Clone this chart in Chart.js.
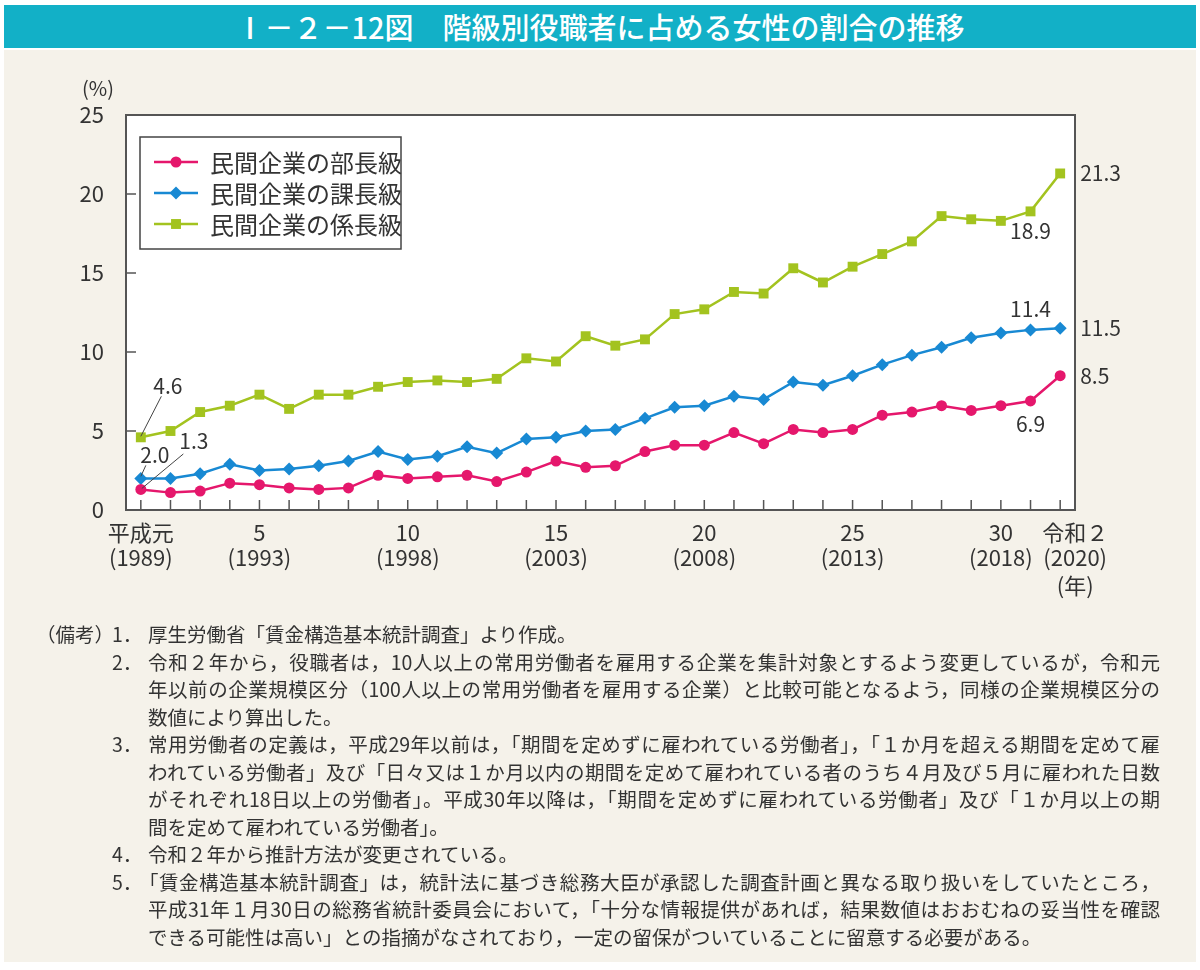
<!DOCTYPE html>
<html lang="ja">
<head>
<meta charset="utf-8">
<script src="https://cdn.jsdelivr.net/npm/chart.js@4.4.1/dist/chart.umd.min.js"></script>
<style>
  html, body { margin: 0; padding: 0; background: #fff; }
  body { width: 1200px; height: 970px; position: relative; overflow: hidden; font-family: 'Noto Sans CJK JP', 'Noto Sans', sans-serif; color: #333; }
  #title { position: absolute; left: 4px; top: 5px; width: 1192px; height: 43px; background: #12B0C7; color: #fff;
           font-size: 29px; font-weight: 500; line-height: 43px; text-align: center; }
  #panel { position: absolute; left: 4px; top: 50px; width: 1192px; height: 912px; background: #F5F2EA; }
  #chartBox { position: absolute; left: 0; top: 50px; width: 1200px; height: 570px; }
  #notes { position: absolute; left: 0; top: 620px; width: 1200px; font-size: 19.5px; line-height: 27.5px; color: #333; }
  #notes .lbl { position: absolute; left: 36px; top: 0; }
  .note { position: relative; padding-left: 148px; }
  .note .num { position: absolute; left: 112px; top: 0; }
  .ln { width: 1012px; }
  .j { text-align: justify; text-align-last: justify; }
  .hang { margin-left: -9px; width: 1021px; }
</style>
</head>
<body>
<div id="panel"></div>
<div id="title">Ⅰ－２－12図　階級別役職者に占める女性の割合の推移</div>
<div id="chartBox"><canvas id="chart"></canvas></div>

<div id="notes">
  <div class="lbl">（備考）</div>
  <div class="note"><span class="num">1．</span>
    <div class="ln">厚生労働省「賃金構造基本統計調査」より作成。</div>
  </div>
  <div class="note"><span class="num">2．</span>
    <div class="ln j">令和２年から，役職者は，10人以上の常用労働者を雇用する企業を集計対象とするよう変更しているが，令和元</div>
    <div class="ln j">年以前の企業規模区分（100人以上の常用労働者を雇用する企業）と比較可能となるよう，同様の企業規模区分の</div>
    <div class="ln">数値により算出した。</div>
  </div>
  <div class="note"><span class="num">3．</span>
    <div class="ln j">常用労働者の定義は，平成29年以前は，「期間を定めずに雇われている労働者」，「１か月を超える期間を定めて雇</div>
    <div class="ln j">われている労働者」及び「日々又は１か月以内の期間を定めて雇われている者のうち４月及び５月に雇われた日数</div>
    <div class="ln j">がそれぞれ18日以上の労働者」。平成30年以降は，「期間を定めずに雇われている労働者」及び「１か月以上の期</div>
    <div class="ln">間を定めて雇われている労働者」。</div>
  </div>
  <div class="note"><span class="num">4．</span>
    <div class="ln">令和２年から推計方法が変更されている。</div>
  </div>
  <div class="note"><span class="num">5．</span>
    <div class="ln j hang">「賃金構造基本統計調査」は，統計法に基づき総務大臣が承認した調査計画と異なる取り扱いをしていたところ，</div>
    <div class="ln j">平成31年１月30日の総務省統計委員会において，「十分な情報提供があれば，結果数値はおおむねの妥当性を確認</div>
    <div class="ln">できる可能性は高い」との指摘がなされており，一定の留保がついていることに留意する必要がある。</div>
  </div>
</div>

<script>
const FONT = "'Noto Sans CJK JP', 'Noto Sans', sans-serif";

// data (%)
const years = [1989, 1990, 1991, 1992, 1993, 1994, 1995, 1996, 1997, 1998, 1999, 2000, 2001, 2002, 2003, 2004,
               2005, 2006, 2007, 2008, 2009, 2010, 2011, 2012, 2013, 2014, 2015, 2016, 2017, 2018, 2019, 2020];
const buchoRatio = [1.3, 1.1, 1.2, 1.7, 1.6, 1.4, 1.3, 1.4, 2.2, 2.0, 2.1, 2.2, 1.8, 2.4, 3.1, 2.7,
                    2.8, 3.7, 4.1, 4.1, 4.9, 4.2, 5.1, 4.9, 5.1, 6.0, 6.2, 6.6, 6.3, 6.6, 6.9, 8.5];
const kachoRatio = [2.0, 2.0, 2.3, 2.9, 2.5, 2.6, 2.8, 3.1, 3.7, 3.2, 3.4, 4.0, 3.6, 4.5, 4.6, 5.0,
                    5.1, 5.8, 6.5, 6.6, 7.2, 7.0, 8.1, 7.9, 8.5, 9.2, 9.8, 10.3, 10.9, 11.2, 11.4, 11.5];
const kakarichoRatio = [4.6, 5.0, 6.2, 6.6, 7.3, 6.4, 7.3, 7.3, 7.8, 8.1, 8.2, 8.1, 8.3, 9.6, 9.4, 11.0,
                        10.4, 10.8, 12.4, 12.7, 13.8, 13.7, 15.3, 14.4, 15.4, 16.2, 17.0, 18.6, 18.4, 18.3, 18.9, 21.3];
const seriesNames = ['民間企業の部長級', '民間企業の課長級', '民間企業の係長級'];

// x axis labels
const tickYears = [1989, 1993, 1998, 2003, 2008, 2013, 2018, 2020];
const eraLabels = ['平成元', '5', '10', '15', '20', '25', '30', '令和２'];
const westernLabels = ['(1989)', '(1993)', '(1998)', '(2003)', '(2008)', '(2013)', '(2018)', '(2020)'];
const yearUnit = '(年)';

// where the value labels go (dataset, point, offset from point, optional leader line)
const callouts = [
    { ds: 2, idx: 0, dx: 27, dy: -51, from: [-6.5, 10], to: [0, -1] },
    { ds: 1, idx: 0, dx: 14, dy: -23, from: [-9, 10], to: [0, -2] },
    { ds: 0, idx: 0, dx: 53, dy: -48, from: [-10.5, 12.5], to: [1, -1] },
    { ds: 2, idx: 30, dx: 0, dy: 20 },
    { ds: 1, idx: 30, dx: 0, dy: -21 },
    { ds: 0, idx: 30, dx: 0, dy: 23 },
    { ds: 2, idx: 31, dx: 20, dy: 0, align: 'left' },
    { ds: 1, idx: 31, dx: 20, dy: 0, align: 'left' },
    { ds: 0, idx: 31, dx: 20, dy: 0, align: 'left' }
];

const framePlugin = {
    id: 'framePlugin',
    beforeDraw(chart) {
        const { ctx, chartArea: a } = chart;
        ctx.save();
        ctx.fillStyle = '#fff';
        ctx.fillRect(a.left, a.top, a.right - a.left, a.bottom - a.top);
        ctx.restore();
    },
    beforeDatasetsDraw(chart) {
        const { ctx, chartArea: a, scales: { x, y } } = chart;
        ctx.save();
        ctx.strokeStyle = '#555';
        ctx.lineWidth = 2;
        ctx.strokeRect(a.left, a.top, a.right - a.left, a.bottom - a.top);
        // inward tick marks
        ctx.lineWidth = 1.5;
        ctx.beginPath();
        x.ticks.forEach((t, i) => {
            const px = x.getPixelForTick(i);
            ctx.moveTo(px, a.bottom);
            ctx.lineTo(px, a.bottom - 10);
        });
        y.ticks.forEach((t, i) => {
            const py = y.getPixelForTick(i);
            ctx.moveTo(a.left, py);
            ctx.lineTo(a.left + 10, py);
        });
        ctx.stroke();

        // year labels under the axis
        ctx.fillStyle = '#333';
        ctx.font = `22px ${FONT}`;
        ctx.textAlign = 'center';
        ctx.textBaseline = 'middle';
        tickYears.forEach((yr, i) => {
            const last = i === tickYears.length - 1;
            const px = x.getPixelForValue(years.indexOf(yr)) + (last ? 15 : 0);
            ctx.fillText(eraLabels[i], px, a.bottom + 23);
            ctx.fillText(westernLabels[i], px, a.bottom + 48);
            if (last) ctx.fillText(yearUnit, px, a.bottom + 76);
        });

        // unit of y axis
        ctx.font = `20px ${FONT}`;
        ctx.fillText('(%)', a.left - 28, a.top - 27);
        ctx.restore();
    }
};

const valueLabelsPlugin = {
    id: 'valueLabelsPlugin',
    afterDatasetsDraw(chart) {
        const { ctx } = chart;
        ctx.save();
        ctx.font = `21px ${FONT}`;
        ctx.fillStyle = '#333';
        ctx.strokeStyle = '#444';
        ctx.lineWidth = 1;
        ctx.textBaseline = 'middle';
        callouts.forEach(c => {
            const pt = chart.getDatasetMeta(c.ds).data[c.idx];
            const value = chart.data.datasets[c.ds].data[c.idx];
            const lx = pt.x + c.dx, ly = pt.y + c.dy;
            ctx.textAlign = c.align || 'center';
            ctx.fillText(value.toFixed(1), lx, ly);
            if (c.from) {
                ctx.beginPath();
                ctx.moveTo(lx + c.from[0], ly + c.from[1]);
                ctx.lineTo(pt.x + c.to[0], pt.y + c.to[1]);
                ctx.stroke();
            }
        });
        ctx.restore();
    }
};

const boxLegendPlugin = {
    id: 'boxLegendPlugin',
    afterDraw(chart) {
        const { ctx, chartArea: a } = chart;
        const x0 = a.left + 14, y0 = a.top + 22, w = 261, h = 112;
        ctx.save();
        ctx.fillStyle = '#fff';
        ctx.fillRect(x0, y0, w, h);
        ctx.strokeStyle = '#444';
        ctx.lineWidth = 1.5;
        ctx.strokeRect(x0, y0, w, h);
        chart.data.datasets.forEach((ds, i) => {
            const cy = y0 + 25 + i * 31;
            ctx.strokeStyle = ds.borderColor;
            ctx.lineWidth = ds.borderWidth;
            ctx.beginPath();
            ctx.moveTo(x0 + 14, cy);
            ctx.lineTo(x0 + 58, cy);
            ctx.stroke();
            ctx.fillStyle = ds.backgroundColor;
            Chart.helpers.drawPoint(ctx, { pointStyle: ds.pointStyle, radius: ds.pointRadius, rotation: 0, borderWidth: 0 }, x0 + 36, cy);
            ctx.fillStyle = '#333';
            ctx.font = `24px ${FONT}`;
            ctx.textAlign = 'left';
            ctx.textBaseline = 'middle';
            ctx.fillText(ds.label, x0 + 70, cy + 1);
        });
        ctx.restore();
    }
};

function series(label, data, color, pointStyle, radius) {
    return {
        label, data,
        borderColor: color, backgroundColor: color,
        pointBackgroundColor: color, pointBorderWidth: 0,
        borderWidth: 2.5, pointStyle, pointRadius: radius, tension: 0
    };
}

new Chart(document.getElementById('chart'), {
    type: 'line',
    data: {
        labels: years,
        datasets: [
            series(seriesNames[0], buchoRatio, '#E5176C', 'circle', 5.5),
            series(seriesNames[1], kachoRatio, '#1889D3', 'rectRot', 6.5),
            series(seriesNames[2], kakarichoRatio, '#A3C31F', 'rect', 7)
        ]
    },
    options: {
        responsive: true, maintainAspectRatio: false, animation: false, events: [],
        layout: { padding: { top: 65, right: 125, left: 0, bottom: 0 } },
        plugins: { legend: { display: false }, tooltip: { enabled: false } },
        scales: {
            x: {
                type: 'category', offset: true,
                grid: { display: false }, border: { display: false },
                ticks: { display: false, autoSkip: false },
                afterFit: scale => { scale.height = 110; }
            },
            y: {
                min: 0, max: 25,
                grid: { display: false }, border: { display: false },
                ticks: { stepSize: 5, padding: 14, color: '#333', font: { family: FONT, size: 22 } },
                afterFit: scale => { scale.width = 126; }
            }
        }
    },
    plugins: [framePlugin, valueLabelsPlugin, boxLegendPlugin]
});
</script>
</body>
</html>
